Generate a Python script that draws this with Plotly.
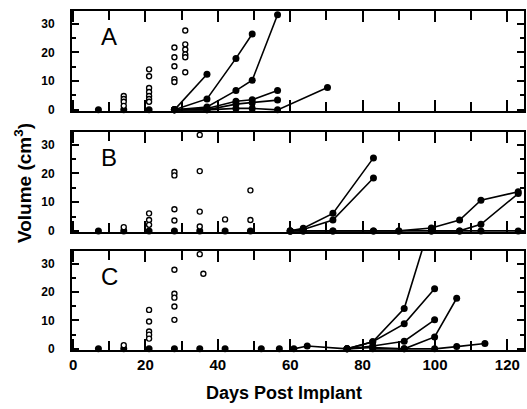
import plotly.graph_objects as go

# ---------------- data ----------------
Y_MIN, Y_MAX = -0.4, 34.4
X_MIN, X_MAX = -0.3, 124.6

# Panel A
A_open_day = [14, 14, 14, 14, 21, 21, 21, 21, 21, 21, 21, 28, 28, 28, 28, 28, 31, 31, 31, 31, 31, 31]
A_open_vol = [4.8, 3.8, 2.8, 1.4, 14.1, 11.7, 7.6, 6.2, 4.8, 3.8, 2.8, 21.7, 18.3, 15.2, 10.7, 9.7, 27.6, 22.8, 21.0, 19.3, 18.3, 13.1]
A_zero_day = [7, 14, 21]
A_tx_day = [7]
A_line_days = [
    [28, 37],
    [28, 37, 45, 49.5],
    [28, 37, 45, 49.5, 56.5],
    [28, 37, 45, 49.5, 56.5],
    [28, 37, 45, 49.5, 56.5],
    [28, 37, 45, 49.5, 56.5, 70.3],
]
A_line_vols = [
    [0, 12.4],
    [0, 3.8, 17.9, 26.4],
    [0, 1.0, 6.7, 10.3, 33.1],
    [0, 0.5, 3.0, 3.5, 6.7],
    [0, 0.0, 2.0, 2.5, 3.4],
    [0, 0.0, 0.5, 0.5, 0.0, 7.8],
]

# Panel B
B_open_day = [14, 21, 21, 21, 28, 28, 28, 28, 35, 35, 35, 35, 42, 49, 49]
B_open_vol = [1.3, 6.1, 3.8, 2.1, 20.5, 19.3, 7.5, 3.6, 33.4, 20.8, 6.7, 1.5, 4.0, 14.1, 3.8]
B_zero_day = [7, 14, 21, 28, 35, 42, 49]
B_tx_day = [7, 14, 21]
B_line_days = [
    [60, 63.6, 71.8, 83],
    [60, 63.6, 71.8, 83],
    [60, 63.6, 71.8, 83, 90, 99, 106.8, 112.7, 123],
    [99, 106.8, 112.7, 123],
    [60, 63.6, 71.8, 83, 90, 99, 106.8, 112.7, 123],
]
B_line_vols = [
    [0, 0.9, 6.1, 25.4],
    [0, 0.5, 3.8, 18.4],
    [0, 0, 0, 0, 0, 1.0, 3.8, 10.7, 13.6],
    [0, 0, 2.3, 13.0],
    [0, 0, 0, 0, 0, 0, 0, 0, 0],
]

# Panel C
C_open_day = [14, 21, 21, 21, 21, 21, 28, 28, 28, 28, 28, 35, 36]
C_open_vol = [1.3, 13.7, 9.6, 6.1, 5.0, 3.6, 27.8, 19.4, 18.0, 14.9, 10.2, 33.3, 26.4]
C_zero_day = [7, 14, 21, 28, 35, 42, 52, 57]
C_tx_day = [7, 14, 21, 28, 36]
C_line_days = [
    [61, 64.7, 75.7, 82.8, 91.5, 99.9],
    [75.7, 82.8, 91.5, 99.9],
    [75.7, 82.8, 91.5, 99.9],
    [75.7, 82.8, 91.5, 99.9, 106],
    [82.8, 91.5, 99.9, 106, 113.8],
]
C_line_vols = [
    [0, 1.0, 0, 2.5, 14.2, 49.0],
    [0, 2.5, 8.8, 21.1],
    [0, 1.0, 2.7, 10.2],
    [0, 0.5, 0, 4.2, 17.8],
    [0, 0, 0, 0.8, 1.9],
]

PANEL_LABELS = ["A", "B", "C"]
X_TITLE = "Days Post Implant"
Y_TITLE = "Volume (cm<sup>3</sup>)"

panels = [
    (A_open_day, A_open_vol, A_zero_day, A_tx_day, A_line_days, A_line_vols),
    (B_open_day, B_open_vol, B_zero_day, B_tx_day, B_line_days, B_line_vols),
    (C_open_day, C_open_vol, C_zero_day, C_tx_day, C_line_days, C_line_vols),
]

FONT = "Liberation Sans, Arial, sans-serif"
fig = go.Figure()

domains = [[0.705, 1.0], [0.348, 0.643], [0.0, 0.292]]

for i, (od, ov, zd, td, ldays, lvols) in enumerate(panels):
    xa = "x" if i == 0 else f"x{i+1}"
    ya = "y" if i == 0 else f"y{i+1}"
    # growth curves
    for d, v in zip(ldays, lvols):
        sizes = [7 if val <= Y_MAX else 0 for val in v]
        fig.add_trace(go.Scatter(
            x=d, y=v, mode="lines+markers", xaxis=xa, yaxis=ya,
            line=dict(color="black", width=1.6),
            marker=dict(color="black", size=sizes, symbol="circle", opacity=1,
                        line=dict(color="black", width=0)),
            cliponaxis=False, showlegend=False, hoverinfo="skip"))
    # zero-volume treated points
    fig.add_trace(go.Scatter(
        x=zd, y=[0] * len(zd), mode="markers", xaxis=xa, yaxis=ya,
        marker=dict(color="black", size=7, opacity=1, line=dict(color="black", width=0)),
        cliponaxis=False, showlegend=False, hoverinfo="skip"))
    # control open circles
    fig.add_trace(go.Scatter(
        x=od, y=ov, mode="markers", xaxis=xa, yaxis=ya,
        marker=dict(color="white", size=5, symbol="circle",
                    line=dict(color="black", width=1.4)),
        cliponaxis=False, showlegend=False, hoverinfo="skip"))
    # treatment markers
    fig.add_trace(go.Scatter(
        x=td, y=[-2.1] * len(td), mode="markers", xaxis=xa, yaxis=ya,
        marker=dict(color="black", size=5, symbol="triangle-up"),
        cliponaxis=False, showlegend=False, hoverinfo="skip"))

    axis_common = dict(showline=True, linecolor="black", linewidth=1.8,
                       mirror="ticks", ticks="inside", tickcolor="black",
                       tickwidth=1.5, showgrid=False, zeroline=False)
    xkey = "xaxis" if i == 0 else f"xaxis{i+1}"
    ykey = "yaxis" if i == 0 else f"yaxis{i+1}"
    fig.update_layout({
        xkey: dict(axis_common, range=[X_MIN, X_MAX], domain=[0, 1],
                   anchor=ya, tickmode="linear", tick0=0, dtick=20, ticklen=11,
                   minor=dict(tickmode="linear", tick0=0, dtick=10, ticklen=9,
                              ticks="inside", tickcolor="black", tickwidth=1.5),
                   showticklabels=(i == 2),
                   tickfont=dict(family=FONT, size=15, color="black", weight="bold")),
        ykey: dict(axis_common, range=[Y_MIN, Y_MAX], domain=domains[i],
                   anchor=xa, tickmode="linear", tick0=0, dtick=10, ticklen=7,
                   minor=dict(tickmode="linear", tick0=0, dtick=5, ticklen=4,
                              ticks="inside", tickcolor="black", tickwidth=1.5),
                   ticklabelstandoff=13,
                   tickfont=dict(family=FONT, size=12, color="black", weight="bold")),
    })
    fig.add_annotation(text=PANEL_LABELS[i], xref=xa, yref=ya, x=7.2, y=31.0,
                       xanchor="left", yanchor="top", showarrow=False,
                       font=dict(family=FONT, size=24, color="black"))

fig.add_annotation(text=X_TITLE, xref="paper", yref="paper", x=0.469, y=-0.128,
                   xanchor="center", yanchor="middle", showarrow=False,
                   font=dict(family=FONT, size=18, color="black", weight="bold"))
fig.add_annotation(text=Y_TITLE, xref="paper", yref="paper", x=-0.108, y=0.493,
                   xanchor="center", yanchor="middle", showarrow=False, textangle=-90,
                   font=dict(family=FONT, size=19, color="black", weight="bold"))

fig.update_layout(width=527, height=409, margin=dict(l=72, r=1, t=11, b=59),
                  paper_bgcolor="white", plot_bgcolor="white", showlegend=False)

fig.write_html("out.html")
